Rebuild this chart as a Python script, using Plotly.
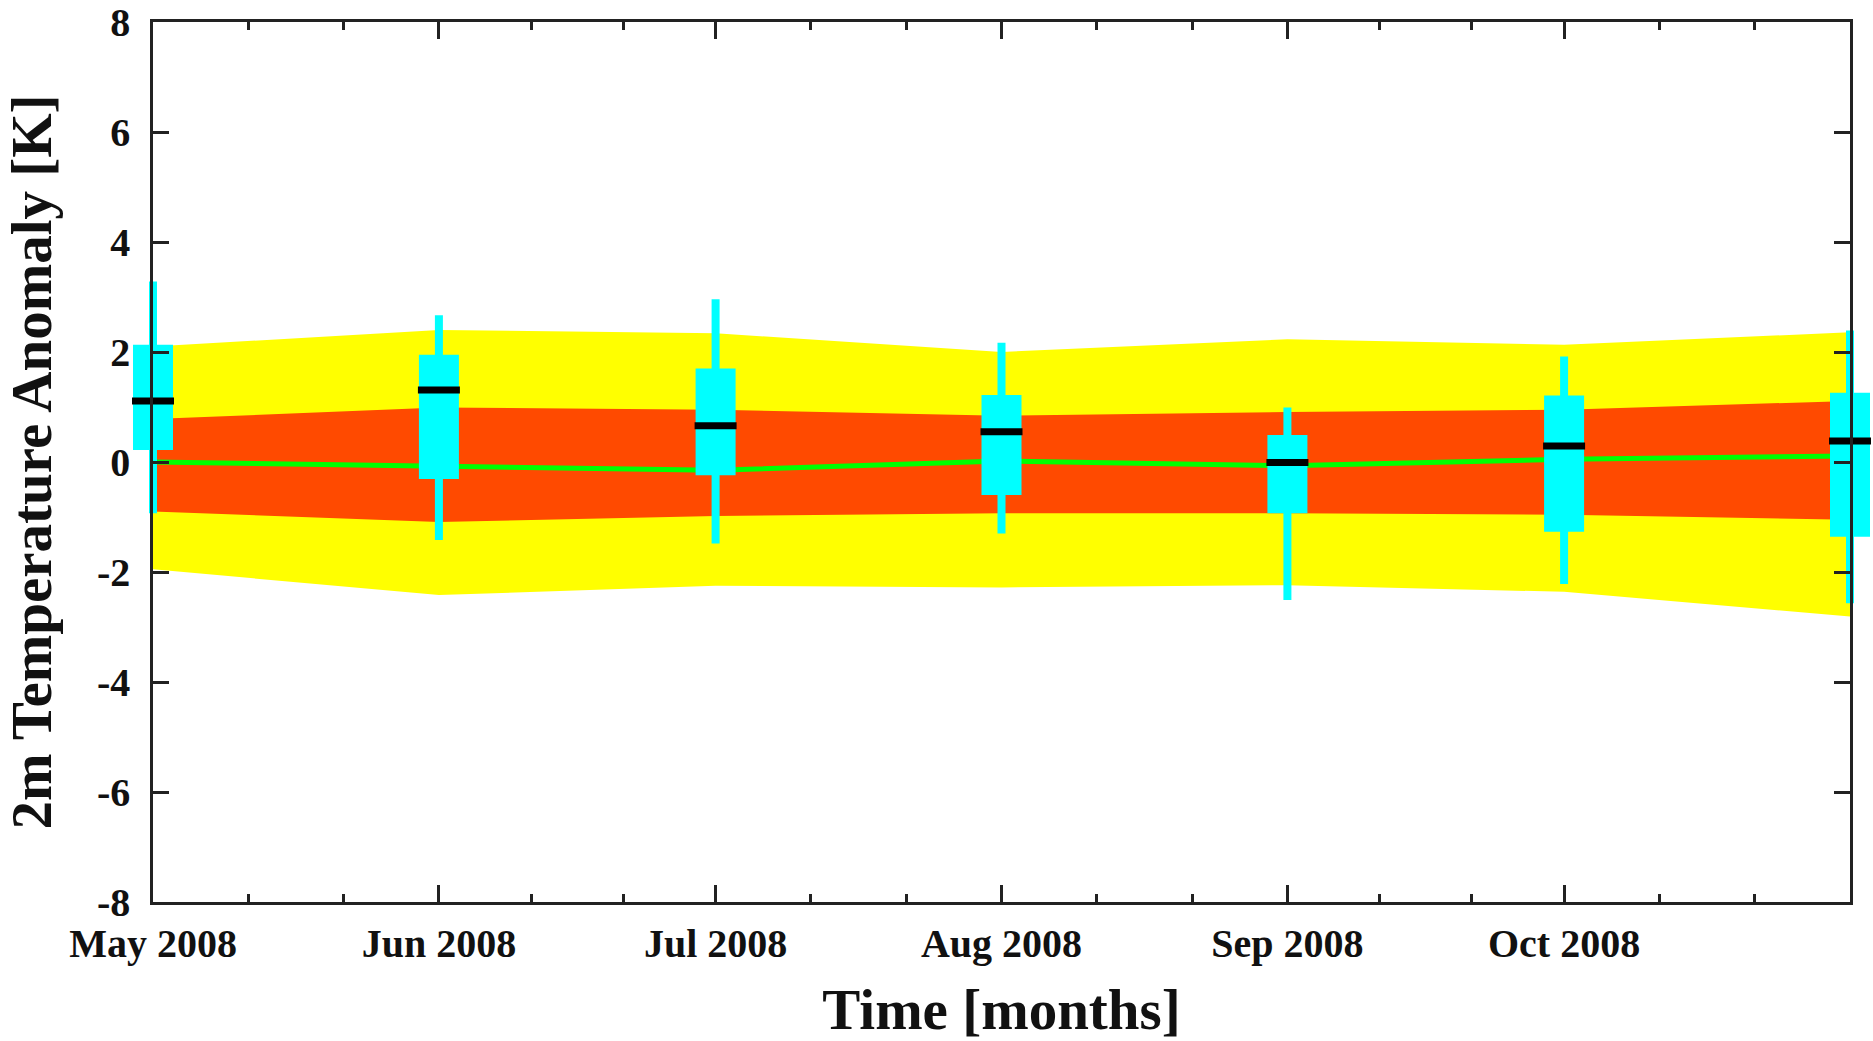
import pandas as pd
import plotly.graph_objects as go

# ---------------- data ----------------
months = ["2008-05-01", "2008-06-01", "2008-07-01", "2008-08-01",
          "2008-09-01", "2008-10-01", "2008-11-01"]
tick_dates = months[:6]
tick_labels = ["May 2008", "Jun 2008", "Jul 2008", "Aug 2008", "Sep 2008", "Oct 2008"]
y_ticks = [-8, -6, -4, -2, 0, 2, 4, 6, 8]
y_tick_labels = ["-8", "-6", "-4", "-2", "0", "2", "4", "6", "8"]

# shaded climatology bands
outer_upper = [2.10, 2.40, 2.34, 2.00, 2.23, 2.13, 2.36]
inner_upper = [0.78, 0.99, 0.95, 0.84, 0.91, 0.95, 1.11]
central = [0.00, -0.08, -0.15, 0.02, -0.07, 0.05, 0.11]
inner_lower = [-0.90, -1.09, -0.98, -0.93, -0.93, -0.96, -1.05]
outer_lower = [-1.95, -2.42, -2.25, -2.28, -2.24, -2.36, -2.81]

# forecast boxes
whisker_high = [3.28, 2.67, 2.96, 2.17, 0.99, 1.92, 2.39]
box_high = [2.13, 1.95, 1.70, 1.22, 0.49, 1.21, 1.26]
median = [1.11, 1.31, 0.66, 0.55, -0.01, 0.29, 0.38]
box_low = [0.22, -0.31, -0.24, -0.60, -0.93, -1.27, -1.36]
whisker_low = [-0.93, -1.42, -1.48, -1.30, -2.51, -2.22, -2.57]

# ---------------- styling / geometry ----------------
FONT = "Liberation Serif"
AX = "#222222"
YELLOW = "#FFFF00"
ORANGE = "#FF4A00"
GREEN = "#00FF00"
CYAN = "#00FFFF"

W, H = 1873, 1041
ML, MR, MT, MB = 131, 1, 22, 139
EXT = 22                       # px the box layer extends beyond the frame
plot_w = W - ML - MR
frame_dom = [EXT / plot_w, 1 - EXT / plot_w]
frame_px = plot_w - 2 * EXT

x0 = pd.Timestamp(months[0])
x1 = pd.Timestamp(months[-1])
span_days = (x1 - x0) / pd.Timedelta(days=1)
px_per_day = frame_px / span_days
ext = pd.Timedelta(days=EXT / px_per_day)
box_range = [(x0 - ext).isoformat(), (x1 + ext).isoformat()]
frame_range = [months[0], months[-1]]
DAY_MS = 86400000
BOX_W = 40 / px_per_day * DAY_MS
WHISK_W = 8 / px_per_day * DAY_MS

mdates = pd.to_datetime(months)
minor_ticks = []
for a, b in zip(mdates[:-1], mdates[1:]):
    minor_ticks.append(a + (b - a) / 3)
    minor_ticks.append(a + 2 * (b - a) / 3)

fig = go.Figure()

# bands (subplot xy)
fig.add_trace(go.Scatter(x=months, y=outer_lower, mode="lines",
                         line=dict(width=0), showlegend=False, hoverinfo="skip"))
fig.add_trace(go.Scatter(x=months, y=outer_upper, mode="lines", fill="tonexty",
                         fillcolor=YELLOW, line=dict(width=0), showlegend=False))
fig.add_trace(go.Scatter(x=months, y=inner_lower, mode="lines",
                         line=dict(width=0), showlegend=False, hoverinfo="skip"))
fig.add_trace(go.Scatter(x=months, y=inner_upper, mode="lines", fill="tonexty",
                         fillcolor=ORANGE, line=dict(width=0), showlegend=False))
fig.add_trace(go.Scatter(x=months, y=central, mode="lines",
                         line=dict(color=GREEN, width=5), showlegend=False))

# boxes (subplot x2y2, slightly wider so the edge boxes are not clipped)
fig.add_trace(go.Bar(x=months, base=whisker_low,
                     y=[h - l for h, l in zip(whisker_high, whisker_low)],
                     width=WHISK_W, marker=dict(color=CYAN, line=dict(width=0)),
                     showlegend=False, xaxis="x2", yaxis="y2"))
fig.add_trace(go.Bar(x=months, base=box_low,
                     y=[h - l for h, l in zip(box_high, box_low)],
                     width=BOX_W, marker=dict(color=CYAN, line=dict(width=0)),
                     showlegend=False, xaxis="x2", yaxis="y2"))

# medians on the framed subplot (x3y3), drawn on top
fig.add_trace(go.Scatter(x=months, y=median, mode="markers",
                         marker=dict(symbol="line-ew", size=30,
                                     line=dict(color="black", width=7)),
                         cliponaxis=False, showlegend=False, xaxis="x3", yaxis="y3"))

hidden = dict(visible=False, showgrid=False, zeroline=False, automargin=False)

fig.update_layout(
    width=W, height=H, autosize=False,
    margin=dict(l=ML, r=MR, t=MT, b=MB, pad=0),
    paper_bgcolor="white", plot_bgcolor="rgba(0,0,0,0)",
    barmode="overlay",
    font=dict(family=FONT, color="#111111"),
    xaxis=dict(type="date", domain=frame_dom, range=frame_range, anchor="y", **hidden),
    yaxis=dict(domain=[0, 1], range=[-8, 8], anchor="x", **hidden),
    xaxis2=dict(type="date", domain=[0, 1], range=box_range, anchor="y2", **hidden),
    yaxis2=dict(domain=[0, 1], range=[-8, 8], anchor="x2", **hidden),
    # visible frame, drawn last so its lines sit on top of the boxes
    xaxis3=dict(
        type="date", domain=frame_dom, range=frame_range, anchor="y3",
        automargin=False,
        tickmode="array", tickvals=tick_dates, ticktext=tick_labels,
        ticks="inside", ticklen=17, tickwidth=2.5, tickcolor=AX,
        showline=True, linewidth=2.5, linecolor=AX, mirror="ticks",
        showgrid=False, zeroline=False,
        minor=dict(tickmode="array", tickvals=minor_ticks, ticks="inside",
                   ticklen=8, tickwidth=2.5, tickcolor=AX, showgrid=False),
        tickfont=dict(family=FONT, size=40, weight="bold"),
        ticklabelstandoff=4,
        title=dict(text="Time [months]", standoff=38,
                   font=dict(family=FONT, size=57, weight="bold")),
    ),
    yaxis3=dict(
        domain=[0, 1], range=[-8, 8], anchor="x3", automargin=False,
        tickmode="array", tickvals=y_ticks, ticktext=y_tick_labels,
        ticks="inside", ticklen=16, tickwidth=2.5, tickcolor=AX,
        showline=True, linewidth=2.5, linecolor=AX, mirror="ticks",
        showgrid=False, zeroline=False,
        tickfont=dict(family=FONT, size=40, weight="bold"),
        ticklabelstandoff=12,
        title=dict(text="2m Temperature Anomaly [K]", standoff=42,
                   font=dict(family=FONT, size=57, weight="bold")),
    ),
)

fig.write_html("out.html", config={"displayModeBar": False},
               post_script="document.body.style.margin='0px';")
